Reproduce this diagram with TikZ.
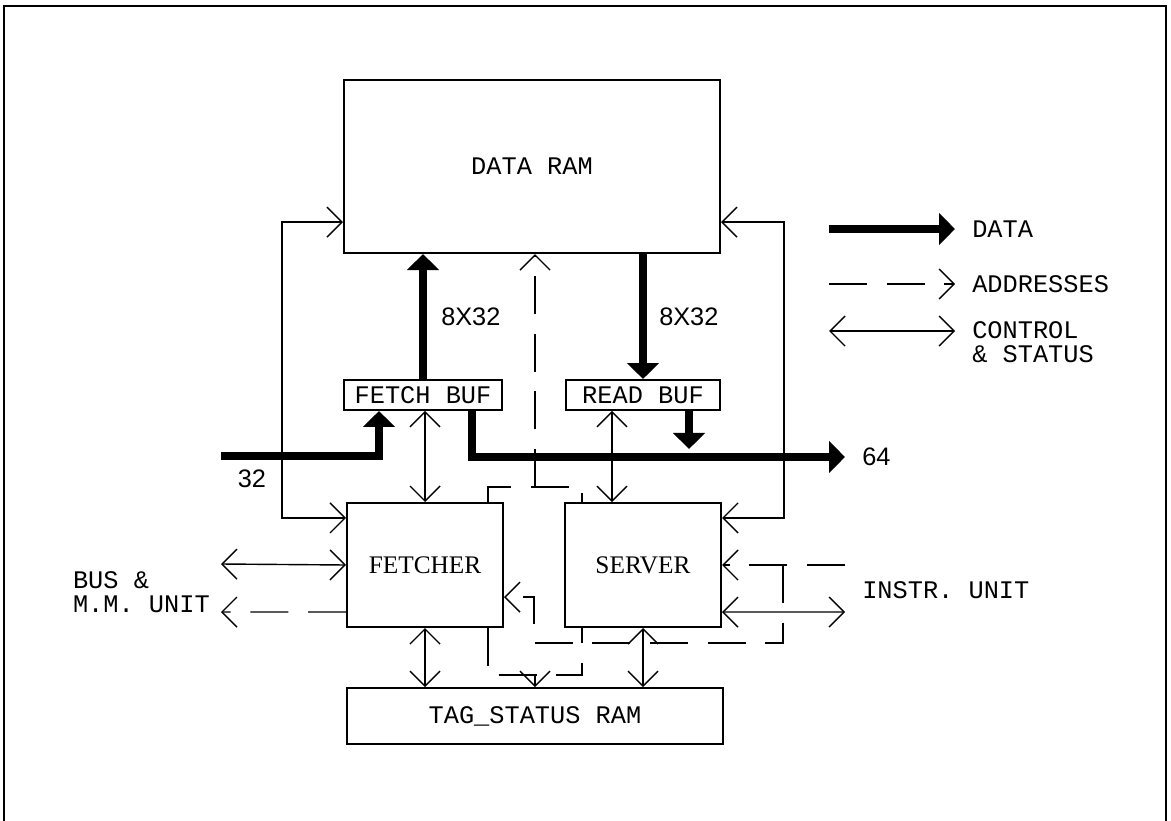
\documentclass[tikz,border=0pt]{standalone}
\usepackage{fontspec}
\setmainfont{Liberation Serif}
\setsansfont{Liberation Sans}
\setmonofont{Liberation Mono}
\usetikzlibrary{arrows.meta}

\begin{document}
\begin{tikzpicture}[
    x=0.025cm, y=-0.025cm,
    box/.style={draw, line width=1.4pt, inner sep=0pt, font=\ttfamily\fontsize{18}{20}\selectfont},
    unitbox/.style={box, font=\rmfamily\fontsize{18}{20}\selectfont},
    lbl/.style={font=\ttfamily\fontsize{18}{17}\selectfont, align=left, inner sep=0pt},
    num/.style={font=\sffamily\fontsize{18}{20}\selectfont, inner sep=0pt},
    data/.style={line width=6pt, -{Triangle[length=4mm, width=7.8mm]}},
    ctrl/.style={line width=1pt, {Straight Barb[length=3.75mm, width=7.5mm]}-{Straight Barb[length=3.75mm, width=7.5mm]}},
    addrline/.style={line width=1pt, dash pattern=on 27pt off 14pt},
    addr/.style={addrline, -{Straight Barb[length=3.75mm, width=7.5mm]}}
]
    \useasboundingbox (0,0) rectangle (1171,821);
    \draw[line width=2pt] (4,821) -- (4,6) -- (1166,6) -- (1166,821);

    % ================= BLOCKS =================
    \node[box, minimum width=9.4cm, minimum height=4.325cm] (dataram) at (532,166.5) {DATA RAM};
    \node[box, minimum width=3.95cm, minimum height=0.75cm] (fetchbuf) at (423,395) {FETCH BUF};
    \node[box, minimum width=3.85cm, minimum height=0.75cm] (readbuf) at (643,395) {READ BUF};
    \node[unitbox, minimum width=3.9cm, minimum height=3.1cm] (fetcher) at (425,565) {FETCHER};
    \node[unitbox, minimum width=3.9cm, minimum height=3.1cm] (server) at (643,565) {SERVER};
    \node[box, minimum width=9.4cm, minimum height=1.4cm] (tag) at (535,716) {TAG\_STATUS RAM};

    % ================= OUTSIDE UNITS =================
    \node[lbl, anchor=east] (bmm) at (210,592) {BUS \&\\M.M. UNIT};
    \node[lbl, anchor=west] (iu) at (862,590) {INSTR. UNIT};
    \coordinate (busin) at (221,456);
    \coordinate (busout) at (845,457);
    \coordinate (bmmctrl) at (221,564);
    \coordinate (bmmaddr) at (221,612);
    \coordinate (iuaddr) at (845,565);
    \coordinate (iuctrl) at (845,612);
    \coordinate (upj) at (535,487);
    \coordinate (lowj) at (535,675);

    % ================= DATA PATHS =================
    \draw[data] (fetchbuf.north) -- (dataram.south -| fetchbuf.north);
    \node[num, anchor=west] (upwidth) at (441,317) {8X32};
    \draw[data] (dataram.south -| readbuf.north) -- (readbuf.north);
    \node[num, anchor=west] (downwidth) at (659,317) {8X32};

    \draw[data] (busin) -| ([xshift=-1.1cm]fetchbuf.south);
    \node[num] (inwidth) at (252,479) {32};
    \draw[data] ([xshift=1.225cm]fetchbuf.south) |- (busout);
    \node[num, anchor=west] (outwidth) at (862,457) {64};
    \draw[data] ([xshift=1.15cm]readbuf.south) -- ++(0,38);

    % ================= CONTROL & STATUS =================
    \draw[ctrl] ([yshift=1.175cm]fetcher.west) -- ++(-64,0) |- ([yshift=-1.39cm]dataram.west);
    \draw[ctrl] ([yshift=1.175cm]server.east) -- ++(62,0) |- ([yshift=-1.39cm]dataram.east);
    \draw[ctrl] (fetchbuf.south -| fetcher.north) -- (fetcher.north);
    \draw[ctrl] ([xshift=-0.775cm]server.north |- readbuf.south) -- ([xshift=-0.775cm]server.north);
    \draw[ctrl] (fetcher.south) -- (fetcher.south |- tag.north);
    \draw[ctrl] (server.south) -- (server.south |- tag.north);
    \draw[ctrl] (bmmctrl) -- (fetcher.west);
    \draw[ctrl] ([yshift=-1.175cm]server.east) -- (iuctrl);

    % ================= ADDRESSES =================
    \draw[addrline] ([xshift=1.575cm]fetcher.north) |- (upj) -| ([xshift=-1.525cm]server.north);
    \draw[addr] (upj) -- (dataram.south -| upj);
    \draw[addrline] ([xshift=1.575cm]fetcher.south) |- (lowj) -| ([xshift=-1.525cm]server.south);
    \draw[addr] (lowj) -- (tag.north -| lowj);
    \draw[addr] ([yshift=-1.175cm]fetcher.west) -- (bmmaddr);
    \draw[addr] (iuaddr) -- (server.east);
    \draw[addr] ([xshift=-1.55cm]iuaddr) -- ++(0,78) -| ([xshift=0.75cm, yshift=-0.8cm]fetcher.east) -- ([yshift=-0.8cm]fetcher.east);

    % ================= LEGEND =================
    \coordinate (legdata) at (829,229);
    \coordinate (legaddr) at (829,284);
    \coordinate (legctrl) at (829,331);
    \draw[data] (legdata) -- ++(126,0);
    \node[lbl, anchor=west] (legdatatxt) at (972,229) {DATA};
    \draw[addr] (legaddr) -- ++(126,0);
    \node[lbl, anchor=west] (legaddrtxt) at (972,284) {ADDRESSES};
    \draw[ctrl] (legctrl) -- ++(126,0);
    \node[lbl, anchor=north west] (legctrltxt) at (972,321) {CONTROL\\\& STATUS};
\end{tikzpicture}
\end{document}
